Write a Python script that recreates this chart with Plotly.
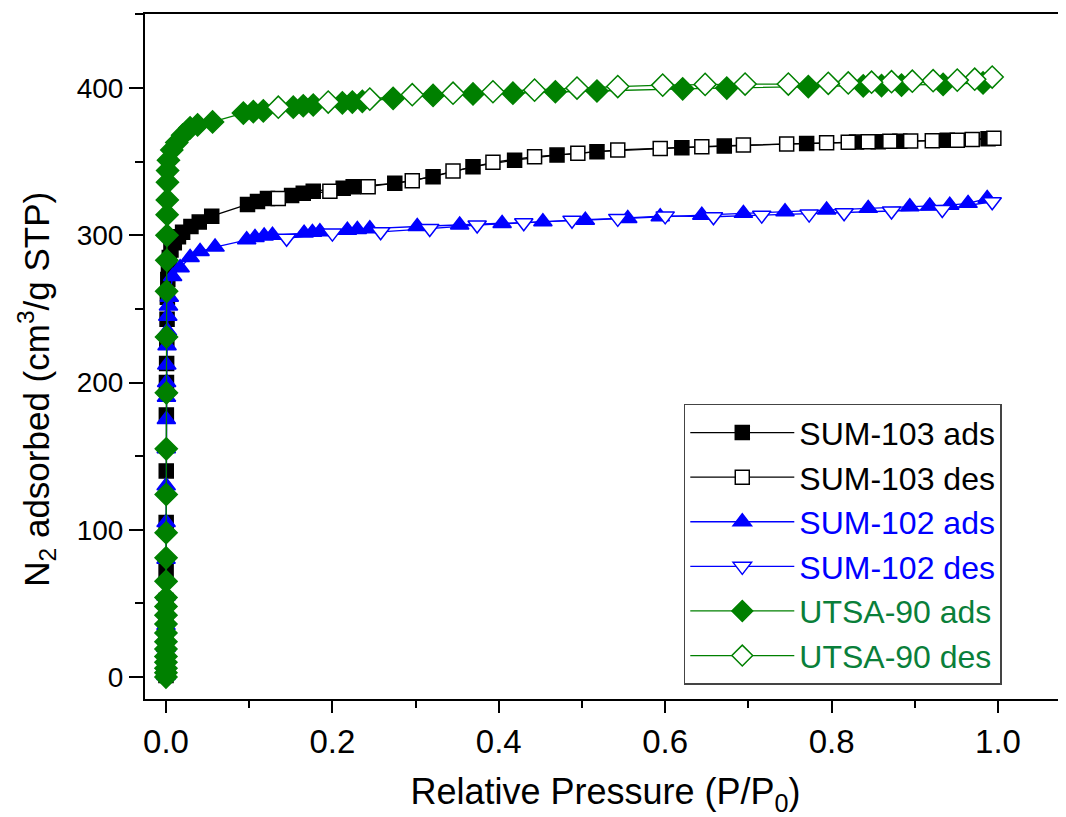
import plotly.graph_objects as go

# ---------------- data ----------------
# SUM-103
s103_ads_x = [1e-6, 2e-6, 4e-6, 8e-6, 1.5e-5, 3e-5, 6e-5, 1e-4, 1.6e-4, 2.4e-4, 3.4e-4, 4.6e-4,
              6e-4, 8e-4, 1e-3, 1.3e-3, 1.7e-3, 2.2e-3, 3e-3, 0.004, 0.006, 0.010, 0.015, 0.020,
              0.030, 0.040, 0.055, 0.098, 0.110, 0.122, 0.151, 0.165, 0.177, 0.213, 0.225,
              0.275, 0.321, 0.369, 0.419, 0.470, 0.518, 0.620, 0.671, 0.770, 0.830, 0.856,
              0.882, 0.939, 0.988]
s103_ads_y = [1, 3, 6, 10, 16, 25, 38, 52, 73, 105, 140, 178, 200, 213, 228, 243, 258, 270, 280,
              285, 290, 295, 299, 302, 306, 309, 313, 321, 323, 325, 327, 328.5, 330, 332, 333,
              335.3, 339.8, 346.6, 351, 354.5, 356.8, 359.5, 360.6, 362.4, 363.3, 363.5,
              363.8, 364.5, 365.5]
s103_des_x = [0.995, 0.969, 0.951, 0.921, 0.895, 0.870, 0.844, 0.820, 0.794, 0.746, 0.694, 0.644,
              0.594, 0.543, 0.495, 0.443, 0.393, 0.345, 0.296, 0.243, 0.197, 0.135]
s103_des_y = [366, 365, 364.6, 364.3, 364, 363.8, 363.5, 363.2, 362.8, 362, 361.3, 360.2,
              359, 358, 355.7, 353.4, 349.6, 343.6, 337, 333, 330, 325]

# SUM-102
s102_ads_x = [1e-6, 2e-6, 4e-6, 8e-6, 1.5e-5, 3e-5, 6e-5, 1e-4, 1.6e-4, 2.4e-4, 3.4e-4, 4.6e-4,
              6e-4, 8e-4, 1e-3, 1.3e-3, 1.7e-3, 2.2e-3, 3e-3, 0.004, 0.008, 0.017, 0.029, 0.041,
              0.059, 0.097, 0.107, 0.118, 0.128, 0.166, 0.176, 0.185, 0.218, 0.230, 0.245,
              0.302, 0.353, 0.404, 0.453, 0.504, 0.555, 0.594, 0.644, 0.694, 0.744, 0.794,
              0.844, 0.894, 0.918, 0.942, 0.964, 0.987]
s102_ads_y = [1, 3, 7, 12, 20, 35, 55, 80, 105, 130, 155, 175, 190, 200, 212, 225, 235, 245, 252,
              258, 272, 278, 285, 289, 292, 297, 298.5, 299.5, 300, 301.5, 302, 302.5, 303.5,
              304, 304.5, 306, 307, 308, 309.2, 310.3, 311.5, 312.6, 313.7, 314.9, 316, 317.2,
              318.3, 319.4, 319.9, 320.5, 321.7, 325]
s102_des_x = [0.993, 0.933, 0.872, 0.815, 0.773, 0.716, 0.658, 0.600, 0.543, 0.488, 0.430,
              0.374, 0.317, 0.258, 0.200, 0.145]
s102_des_y = [322.8, 317.6, 316.5, 315.3, 314.4, 313.7, 312.6, 313.2, 311.5, 310.3, 308.5,
              307, 304.6, 302.4, 301.5, 298]

# UTSA-90
u90_ads_x = [1e-6, 2e-6, 3e-6, 5e-6, 7e-6, 1e-5, 1.4e-5, 2e-5, 2.8e-5, 4e-5, 5.5e-5, 7.5e-5,
             1e-4, 1.4e-4, 2e-4, 2.8e-4, 3.8e-4, 5e-4, 6.5e-4, 8e-4, 1e-3, 1.2e-3, 1.4e-3,
             1.6e-3, 1.8e-3, 2.0e-3, 0.003, 0.007, 0.013, 0.020, 0.029, 0.038, 0.056, 0.093,
             0.105, 0.117, 0.153, 0.165, 0.177, 0.212, 0.224, 0.236, 0.273, 0.321, 0.369,
             0.417, 0.468, 0.518, 0.621, 0.674, 0.772, 0.838, 0.860, 0.884, 0.934, 0.982]
u90_ads_y = [0, 3, 6, 10, 14, 19, 24, 30, 36, 42, 48, 54, 65, 81, 98, 124, 155, 193, 231, 262,
             283, 300, 314, 324, 336, 344, 351, 358, 363, 368, 373, 375, 377, 383, 384, 384.5,
             387, 388, 388.5, 390, 390.5, 391, 393, 395, 396, 396.5, 397.5, 398, 399.5, 400,
             401, 401.5, 401.7, 402, 402.5, 403.5]
u90_des_x = [0.993, 0.972, 0.951, 0.922, 0.897, 0.872, 0.848, 0.820, 0.796, 0.748, 0.696, 0.648,
             0.597, 0.543, 0.494, 0.443, 0.393, 0.345, 0.296, 0.245, 0.195, 0.135]
u90_des_y = [407.5, 406, 405.4, 405, 404.7, 404.3, 404, 403.5, 403.2, 402.7, 402.7, 402.5,
             402, 401, 400, 398.6, 397.5, 396.5, 395.5, 392.5, 390.5, 387]

x_ticks = [0.0, 0.2, 0.4, 0.6, 0.8, 1.0]
x_tick_labels = ["0.0", "0.2", "0.4", "0.6", "0.8", "1.0"]
y_ticks = [0, 100, 200, 300, 400]
y_tick_labels = ["0", "100", "200", "300", "400"]

BLACK = "#000000"
BLUE = "#0000FF"
GREEN = "#008000"
GREEN_TXT = "#0A7F3A"

series = [
    ("SUM-103 ads", s103_ads_x, s103_ads_y, "square", BLACK, BLACK, BLACK, 14),
    ("SUM-103 des", s103_des_x, s103_des_y, "square", BLACK, "white", BLACK, 14),
    ("SUM-102 ads", s102_ads_x, s102_ads_y, "triangle-up", BLUE, BLUE, BLUE, 16),
    ("SUM-102 des", s102_des_x, s102_des_y, "triangle-down", BLUE, "white", BLUE, 16),
    ("UTSA-90 ads", u90_ads_x, u90_ads_y, "diamond", GREEN, GREEN, GREEN_TXT, 17),
    ("UTSA-90 des", u90_des_x, u90_des_y, "diamond", GREEN, "white", GREEN_TXT, 17),
]

fig = go.Figure()
for name, xs, ys, sym, col, fill, txtcol, sz in series:
    fig.add_trace(go.Scatter(
        x=xs, y=ys, mode="lines+markers",
        name=f'<span style="color:{txtcol}">{name}</span>',
        line=dict(color=col, width=1.3),
        marker=dict(symbol=sym, size=sz, color=fill,
                    line=dict(color=col, width=1.5)),
    ))

# the page body adds an 8px offset, so the figure is 8px smaller and margins shifted
fig.update_layout(
    width=1058, height=809,
    margin=dict(l=137, r=0, t=6, b=118),
    paper_bgcolor="white", plot_bgcolor="white",
    font=dict(family="Liberation Sans, Arial, sans-serif", color="black"),
    showlegend=True,
    legend=dict(
        x=0.585, y=0.431, xanchor="left", yanchor="top",
        bgcolor="white", bordercolor="#444", borderwidth=1.5,
        font=dict(size=32, family="Liberation Sans, Arial, sans-serif"),
        itemwidth=104, tracegroupgap=0,
    ),
    annotations=[dict(
        text="N<sub>2</sub> adsorbed (cm<sup>3</sup>/g STP)",
        xref="paper", yref="paper", x=-0.118, y=0.452,
        xanchor="center", yanchor="middle", textangle=-90,
        showarrow=False, font=dict(size=35),
    )],
)

fig.update_xaxes(
    range=[-0.0252, 1.0817], showgrid=False, zeroline=False,
    showline=True, linecolor="black", linewidth=2, mirror=True,
    ticks="outside", ticklen=12, tickwidth=2, tickcolor="black",
    tickvals=x_ticks, ticktext=x_tick_labels,
    tickfont=dict(size=33),
    minor=dict(dtick=0.1, ticks="outside", ticklen=7, tickwidth=2, tickcolor="black", showgrid=False),
    title=dict(text="Relative Pressure (P/P<sub>0</sub>)",
               font=dict(size=36), standoff=22),
)
fig.update_yaxes(
    range=[-14.9, 450.3], showgrid=False, zeroline=False,
    showline=True, linecolor="black", linewidth=2, mirror=False,
    ticks="outside", ticklen=14, tickwidth=2, tickcolor="black",
    tickvals=y_ticks, ticktext=y_tick_labels,
    tickfont=dict(size=28),
    minor=dict(dtick=50, ticks="outside", ticklen=8, tickwidth=2, tickcolor="black", showgrid=False),
)

fig.write_html("out.html")
